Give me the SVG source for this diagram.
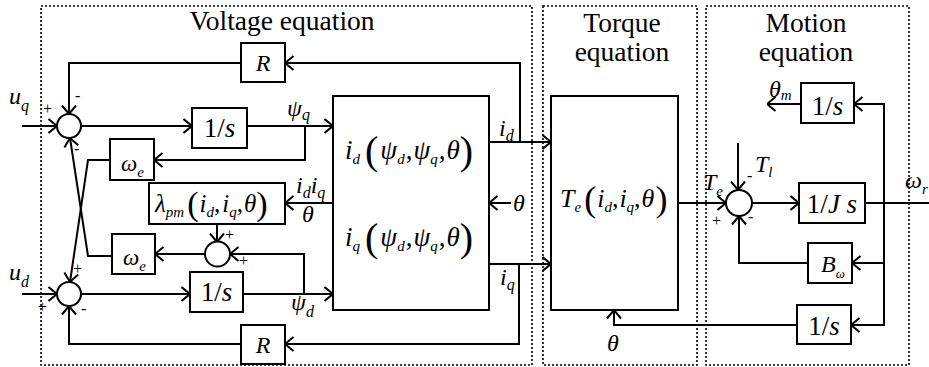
<svg xmlns="http://www.w3.org/2000/svg" width="929" height="367" viewBox="0 0 929 367">
<defs>
<marker id="ar" viewBox="0 0 10 16" refX="9.5" refY="8" markerWidth="10" markerHeight="16" markerUnits="userSpaceOnUse" orient="auto">
<path d="M1,1 L9.5,8 L1,15" fill="none" stroke="#000" stroke-width="2"/>
</marker>
<style>
.ln{fill:none;stroke:#000;stroke-width:2}
.a{marker-end:url(#ar)}
.bx{fill:#fff;stroke:#000;stroke-width:2}
.dt{fill:none;stroke:#000;stroke-width:1.6;stroke-dasharray:2 2}
text{font-family:"Liberation Serif","Times New Roman","DejaVu Serif",serif;fill:#000}
.i{font-style:italic}
.h{font-size:27.5px;text-anchor:middle}
.b{font-size:24px}
.s{font-size:15px}
.sg{font-size:16px}
.p{font-style:normal}
</style>
</defs>
<rect width="929" height="367" fill="#fff"/>

<g id="regions">
<rect class="dt" x="41" y="6" width="491" height="359"/>
<rect class="dt" x="543" y="6" width="154" height="359"/>
<rect class="dt" x="706" y="6" width="203" height="359"/>
<text class="h" x="282" y="30">Voltage equation</text>
<text class="h" x="622" y="32">Torque</text>
<text class="h" x="622" y="61">equation</text>
<text class="h" x="806" y="32">Motion</text>
<text class="h" x="806" y="61">equation</text>
</g>

<g id="connectors">
<path class="ln a" d="M22,126 H57"/>
<path class="ln a" d="M81,126 H192"/>
<path class="ln a" d="M247,126 H333"/>
<path class="ln a" d="M305,126 V160 H154"/>
<path class="ln a" d="M110,160 H88 L70,282"/>
<path class="ln a" d="M112,256 H88 L70,138"/>
<path class="ln a" d="M520,142 V63 H285"/>
<path class="ln a" d="M241,63 H69 V114"/>
<path class="ln a" d="M489,142 H551"/>
<path class="ln a" d="M489,264 H551"/>
<path class="ln a" d="M519,264 V344 H285"/>
<path class="ln a" d="M241,344 H69 V306"/>
<path class="ln a" d="M22,294 H57"/>
<path class="ln a" d="M81,294 H190"/>
<path class="ln a" d="M243,294 H333"/>
<path class="ln a" d="M304,294 V254 H230"/>
<path class="ln a" d="M205,254 H155"/>
<path class="ln a" d="M217,224 V242"/>
<path class="ln a" d="M333,203 H285"/>
<path class="ln a" d="M511,203 H489"/>
<path class="ln a" d="M678,203 H726"/>
<path class="ln a" d="M738,143 V190"/>
<path class="ln a" d="M752,203 H799"/>
<path class="ln" d="M865,203 H929"/>
<path class="ln a" d="M884,203 V104 H854"/>
<path class="ln a" d="M884,203 V325 H851"/>
<path class="ln a" d="M884,263 H852"/>
<path class="ln a" d="M801,104 H767"/>
<path class="ln a" d="M808,263 H739 V216"/>
<path class="ln a" d="M797,325 H614 V310"/>
</g>

<g id="sum_q"><circle class="bx" cx="69" cy="126" r="12"/></g>
<g id="sum_d"><circle class="bx" cx="69" cy="294" r="12"/></g>
<g id="sum_lambda"><circle class="bx" cx="217.5" cy="254" r="12.5"/></g>
<g id="sum_motion"><circle class="bx" cx="739" cy="203" r="13"/></g>

<g id="R_top"><rect class="bx" x="241" y="43" width="44" height="39"/><text class="b i" x="263" y="71" text-anchor="middle">R</text></g>
<g id="R_bottom"><rect class="bx" x="241" y="325" width="44" height="39"/><text class="b i" x="263" y="353" text-anchor="middle">R</text></g>
<g id="int_q"><rect class="bx" x="192" y="108" width="55" height="40"/><text x="219.5" y="137" font-size="27" text-anchor="middle">1/<tspan class="i">s</tspan></text></g>
<g id="int_d"><rect class="bx" x="190" y="272" width="53" height="40"/><text x="216.5" y="301" font-size="27" text-anchor="middle">1/<tspan class="i">s</tspan></text></g>
<g id="we_top"><rect class="bx" x="110" y="139" width="44" height="41"/><text class="i" x="121" y="171" font-size="23">ω<tspan class="s" y="177">e</tspan></text></g>
<g id="we_bottom"><rect class="bx" x="112" y="234" width="43" height="40"/><text class="i" x="123" y="265" font-size="23">ω<tspan class="s" y="271">e</tspan></text></g>
<g id="lambda"><rect class="bx" x="149" y="183" width="136" height="41"/>
<text class="i" x="155" y="212" font-size="25">λ<tspan class="s" y="217">pm</tspan><tspan class="p" font-size="34" y="215" dx="3">(</tspan><tspan y="212" dx="1">i</tspan><tspan class="s" y="217">d</tspan><tspan class="p" y="212">,</tspan><tspan dx="2">i</tspan><tspan class="s" y="217">q</tspan><tspan class="p" y="212">,</tspan><tspan dx="1">θ</tspan><tspan class="p" font-size="34" y="215">)</tspan></text></g>
<g id="current_block"><rect class="bx" x="333" y="96" width="156" height="214"/>
<text class="i" x="345" y="159" font-size="27">i<tspan class="s" y="164">d</tspan><tspan class="p" font-size="40" y="164" dx="5">(</tspan><tspan y="159" dx="2">ψ</tspan><tspan class="s" y="164">d</tspan><tspan class="p" y="159" dx="1">,</tspan><tspan dx="1">ψ</tspan><tspan class="s" y="164">q</tspan><tspan class="p" y="159" dx="1">,</tspan><tspan dx="1">θ</tspan><tspan class="p" font-size="40" y="164">)</tspan></text>
<text class="i" x="345" y="246" font-size="27">i<tspan class="s" y="251">q</tspan><tspan class="p" font-size="40" y="251" dx="5">(</tspan><tspan y="246" dx="2">ψ</tspan><tspan class="s" y="251">d</tspan><tspan class="p" y="246" dx="1">,</tspan><tspan dx="1">ψ</tspan><tspan class="s" y="251">q</tspan><tspan class="p" y="246" dx="1">,</tspan><tspan dx="1">θ</tspan><tspan class="p" font-size="40" y="251">)</tspan></text></g>
<g id="torque_block"><rect class="bx" x="551" y="96" width="127" height="214"/>
<text class="i" x="560" y="207" font-size="26">T<tspan class="s" y="212">e</tspan><tspan class="p" font-size="36" y="211" dx="3">(</tspan><tspan y="207" dx="1">i</tspan><tspan class="s" y="212">d</tspan><tspan class="p" y="207">,</tspan><tspan dx="1">i</tspan><tspan class="s" y="212">q</tspan><tspan class="p" y="207">,</tspan><tspan dx="1">θ</tspan><tspan class="p" font-size="36" y="211" dx="1">)</tspan></text></g>
<g id="int_theta_m"><rect class="bx" x="801" y="83" width="53" height="40"/><text x="827.5" y="115" font-size="27" text-anchor="middle">1/<tspan class="i">s</tspan></text></g>
<g id="inertia"><rect class="bx" x="799" y="183" width="66" height="40"/><text x="832" y="213" font-size="27" text-anchor="middle">1/<tspan class="i">J s</tspan></text></g>
<g id="friction"><rect class="bx" x="808" y="243" width="44" height="40"/><text class="i" x="821" y="272" font-size="24">B<tspan font-size="13" y="278">ω</tspan></text></g>
<g id="int_theta"><rect class="bx" x="797" y="305" width="54" height="39"/><text x="824" y="335" font-size="27" text-anchor="middle">1/<tspan class="i">s</tspan></text></g>

<g id="labels">
<text class="b i" x="9" y="104">u<tspan class="sg" y="111">q</tspan></text>
<text class="b i" x="9" y="280">u<tspan class="sg" y="287">d</tspan></text>
<text class="sg" x="43" y="114">+</text>
<text class="sg" x="75" y="101">-</text>
<text class="sg" x="74" y="154">-</text>
<text class="sg" x="73" y="274">+</text>
<text class="sg" x="38" y="312">+</text>
<text class="sg" x="81" y="314">-</text>
<text class="sg" x="225" y="240">+</text>
<text class="sg" x="239" y="266">+</text>
<text class="b i" x="287" y="116">ψ<tspan class="sg" y="120">q</tspan></text>
<text class="b i" x="291" y="310">ψ<tspan class="sg" y="317">d</tspan></text>
<text class="b i" x="296" y="193">i<tspan class="sg" y="198">d</tspan><tspan y="193">i</tspan><tspan class="sg" y="198">q</tspan></text>
<text class="b i" x="302" y="222">θ</text>
<text class="b i" x="513" y="211">θ</text>
<text class="b i" x="499" y="136">i<tspan class="sg" y="141">d</tspan></text>
<text class="b i" x="500" y="285">i<tspan class="sg" y="290">q</tspan></text>
<text class="b i" x="607" y="351">θ</text>
<text class="b i" x="703" y="190">T<tspan class="s" y="196">e</tspan></text>
<text class="sg" x="712" y="226">+</text>
<text class="sg" x="747" y="181">-</text>
<text class="sg" x="748" y="222">-</text>
<text class="b i" x="755" y="172">T<tspan class="s" y="177">l</tspan></text>
<text class="b i" x="769" y="97">θ<tspan class="s" y="100">m</tspan></text>
<text class="b i" x="905" y="188">ω<tspan class="s" y="194">r</tspan></text>
</g>
</svg>
